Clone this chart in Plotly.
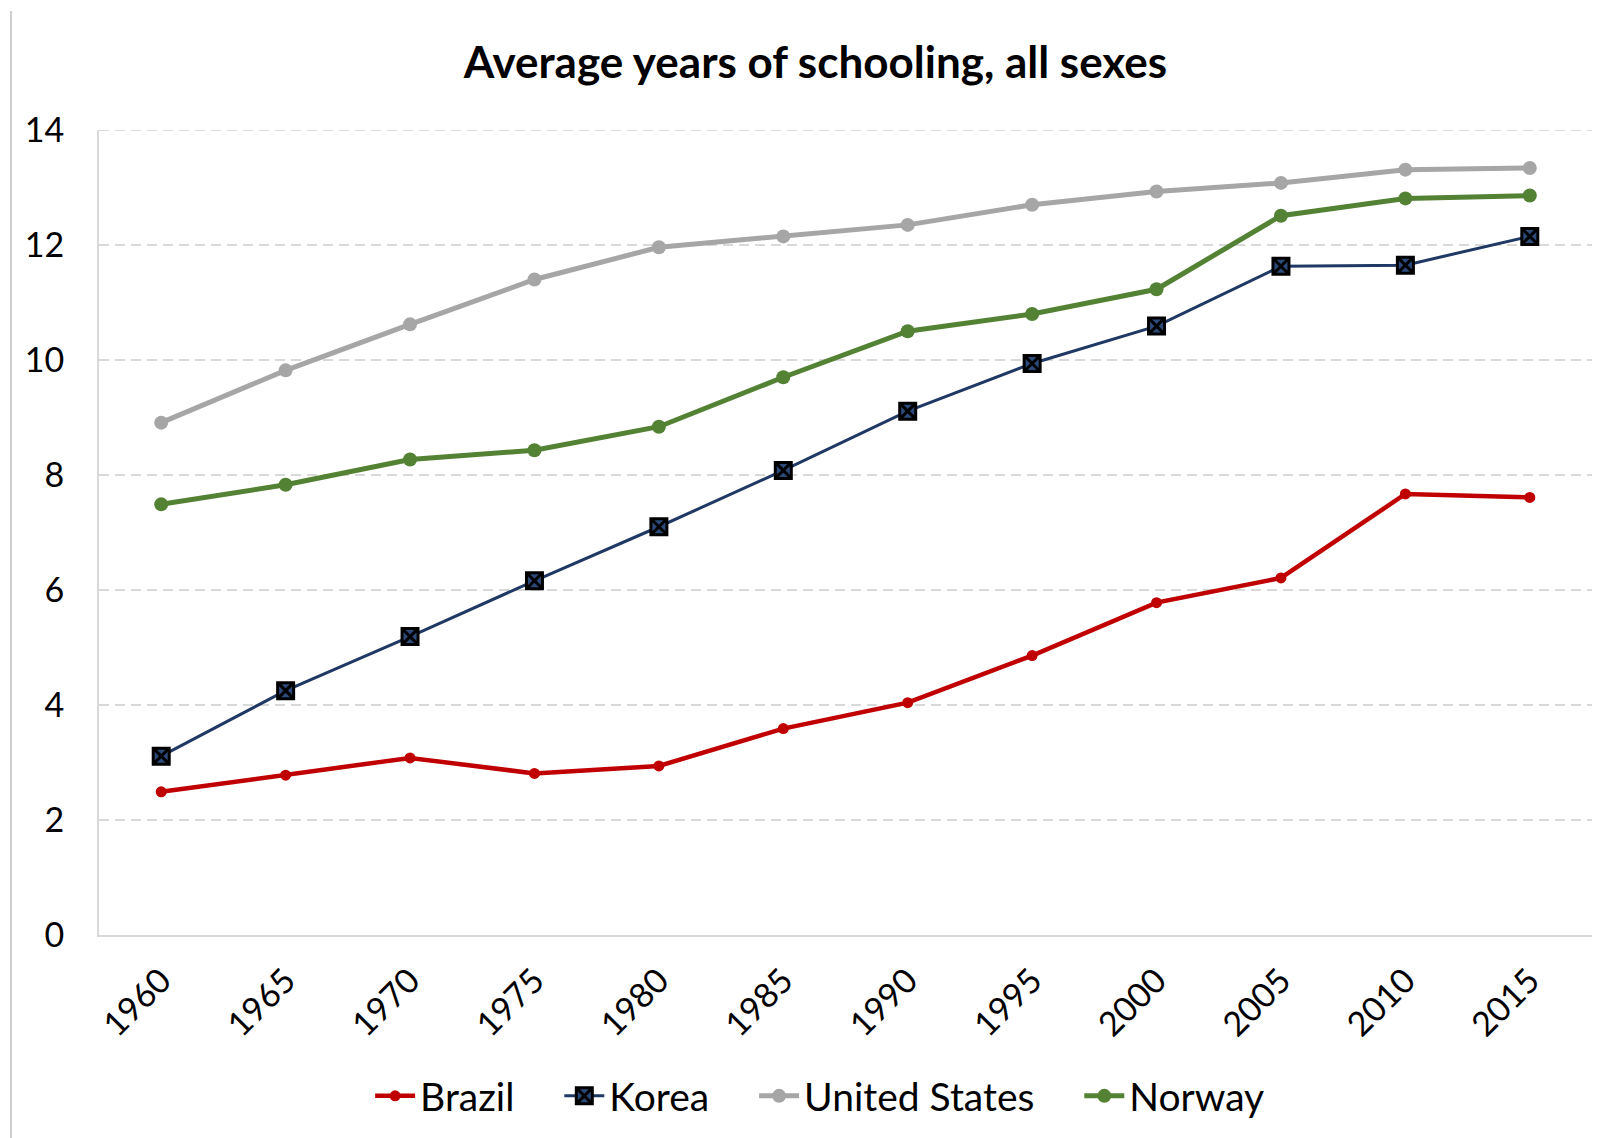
import plotly.graph_objects as go

years = [1960, 1965, 1970, 1975, 1980, 1985, 1990, 1995, 2000, 2005, 2010, 2015]
brazil = [2.49, 2.78, 3.08, 2.81, 2.94, 3.59, 4.04, 4.86, 5.78, 6.21, 7.67, 7.61]
korea = [3.11, 4.25, 5.19, 6.16, 7.10, 8.08, 9.11, 9.94, 10.59, 11.63, 11.65, 12.15]
united_states = [8.91, 9.82, 10.62, 11.40, 11.96, 12.15, 12.35, 12.70, 12.93, 13.08, 13.31, 13.34]
norway = [7.49, 7.83, 8.27, 8.43, 8.84, 9.70, 10.50, 10.80, 11.23, 12.51, 12.81, 12.86]
y_ticks = [0, 2, 4, 6, 8, 10, 12, 14]
title = "Average years of schooling, all sexes"

FONT = "Lato"
PAD = "\u00a0" * 4

fig = go.Figure()
fig.add_trace(go.Scatter(x=years, y=brazil, name="Brazil" + PAD, mode="lines+markers",
                         line=dict(color="#C00000", width=4.5),
                         marker=dict(symbol="circle", size=11, color="#C00000")))
fig.add_trace(go.Scatter(x=years, y=korea, name="Korea" + PAD, mode="lines+markers",
                         line=dict(color="#1F3864", width=3),
                         marker=dict(symbol="square-x", size=16, color="#2C4A7A",
                                     line=dict(color="#000000", width=3))))
fig.add_trace(go.Scatter(x=years, y=united_states, name="United States" + PAD, mode="lines+markers",
                         line=dict(color="#A6A6A6", width=5),
                         marker=dict(symbol="circle", size=14, color="#A6A6A6")))
fig.add_trace(go.Scatter(x=years, y=norway, name="Norway", mode="lines+markers",
                         line=dict(color="#548235", width=5),
                         marker=dict(symbol="circle", size=14, color="#548235")))

fig.update_layout(
    width=1602, height=1138,
    paper_bgcolor="white", plot_bgcolor="white",
    margin=dict(l=99, r=10, t=130, b=203),
    font=dict(family=FONT, size=34, color="#000000"),
    title=dict(text="<b>" + title + "</b>", x=0.509, xanchor="center",
               y=1 - 63 / 1138, yanchor="middle",
               font=dict(family=FONT, size=44, color="#000000")),
    xaxis=dict(range=[1957.5, 2017.5], tickvals=years, ticktext=[str(y) for y in years],
               tickangle=-45, showgrid=False, zeroline=False,
               showline=True, linecolor="#D9D9D9", linewidth=2,
               ticks="", ticklabelstandoff=10, tickfont=dict(size=34)),
    yaxis=dict(range=[0, 14], tickvals=y_ticks, showgrid=True, gridcolor="#D9D9D9",
               griddash="10px,6px", gridwidth=2, zeroline=False,
               showline=True, linecolor="#D9D9D9", linewidth=2,
               ticks="", ticklabelstandoff=26, tickfont=dict(size=34)),
    legend=dict(orientation="h", x=0.483, xanchor="center", y=-0.2, yanchor="middle",
                font=dict(size=39), itemwidth=40, tracegroupgap=0),
    shapes=[dict(type="line", xref="paper", yref="paper",
                 x0=(11 - 99) / 1493, x1=(11 - 99) / 1493,
                 y0=(935 - 11) / 805, y1=(935 - 1138) / 805,
                 line=dict(color="#BFBFBF", width=1.5)),
            dict(type="line", xref="paper", yref="y", x0=0, x1=1, y0=14, y1=14,
                 layer="below", line=dict(color="#D9D9D9", width=2, dash="10px,6px"))],
)

fig.write_html("out.html")
